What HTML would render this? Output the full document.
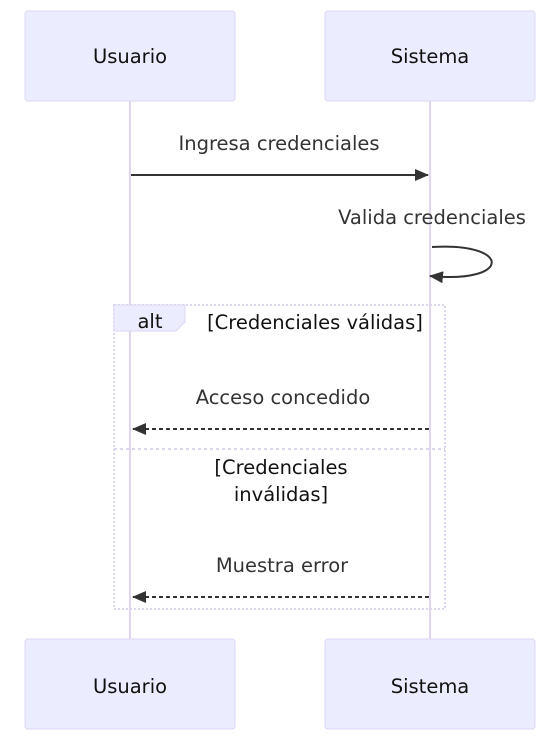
<!DOCTYPE html>
<html><head><meta charset="utf-8"><style>
html,body{margin:0;padding:0;background:#fff;width:556px;height:736px;overflow:hidden}
text{font-family:"DejaVu Sans","Liberation Sans",sans-serif;font-size:19.5px}
</style></head><body>
<svg width="556" height="736" viewBox="0 0 556 736" xmlns="http://www.w3.org/2000/svg">
<defs>
<marker id="ah" markerWidth="14" markerHeight="12" refX="13" refY="6" orient="auto" markerUnits="userSpaceOnUse">
<path d="M0,0 L14,6 L0,12 z" fill="#333"/></marker>
</defs>
<line x1="130" y1="101" x2="130" y2="639" stroke="#e0d6f0" stroke-width="2"/>
<line x1="430" y1="101" x2="430" y2="639" stroke="#e0d6f0" stroke-width="2"/>
<g fill="#ececff" stroke="#dcd6f4" stroke-width="1">
<rect x="25" y="11" width="210" height="90" rx="3"/>
<rect x="325" y="11" width="210" height="90" rx="3"/>
<rect x="25" y="639" width="210" height="90" rx="3"/>
<rect x="325" y="639" width="210" height="90" rx="3"/>
</g>
<g fill="#111" text-anchor="middle">
<text x="130" y="63">Usuario</text><text x="430" y="63">Sistema</text>
<text x="130" y="693">Usuario</text><text x="430" y="693">Sistema</text>
</g>
<g fill="#333" text-anchor="middle">
<text x="279" y="150">Ingresa credenciales</text>
<text x="432" y="224">Valida credenciales</text>
<text x="283" y="404">Acceso concedido</text>
<text x="282" y="572">Muestra error</text>
</g>
<line x1="131" y1="175" x2="428" y2="175" stroke="#333" stroke-width="2" marker-end="url(#ah)"/>
<path d="M432,247 C512,242 512,284 430,276" fill="none" stroke="#333" stroke-width="2" marker-end="url(#ah)"/>
<rect x="114" y="305" width="331" height="304" fill="none" stroke="#dcd6f0" stroke-width="2" stroke-dasharray="2,2"/>
<line x1="114" y1="449" x2="445" y2="449" stroke="#dcd6f0" stroke-width="2" stroke-dasharray="3,3"/>
<path d="M114,305 L185,305 L185,322 L176,331 L114,331 z" fill="#ececff" stroke="#dcd6f0"/>
<text x="150" y="328" text-anchor="middle" fill="#111">alt</text>
<text x="315" y="329" text-anchor="middle" fill="#111">[Credenciales válidas]</text>
<text x="281" y="474" text-anchor="middle" fill="#111">[Credenciales</text>
<text x="281" y="501" text-anchor="middle" fill="#111">inválidas]</text>
<line x1="429" y1="429" x2="133" y2="429" stroke="#333" stroke-width="2" stroke-dasharray="4,3" marker-end="url(#ah)"/>
<line x1="429" y1="597" x2="133" y2="597" stroke="#333" stroke-width="2" stroke-dasharray="4,3" marker-end="url(#ah)"/>
</svg>
</body></html>
